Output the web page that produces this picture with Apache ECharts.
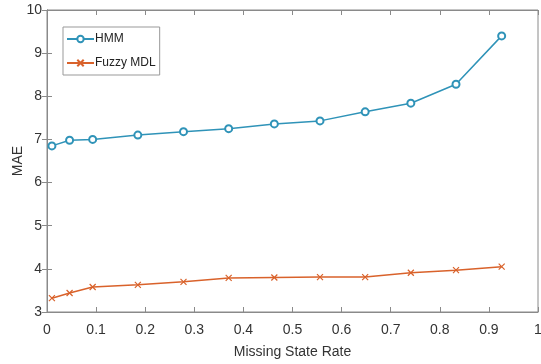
<!DOCTYPE html>
<html>
<head>
<meta charset="utf-8">
<script src="https://cdn.jsdelivr.net/npm/echarts@6/dist/echarts.min.js"></script>
<style>
  html, body { margin: 0; padding: 0; background: #fff; }
  #chart { width: 541px; height: 364px; }
</style>
</head>
<body>
<div id="chart"></div>
<script>
// values
const missingRate = [0.01, 0.046, 0.093, 0.185, 0.278, 0.370, 0.463, 0.556, 0.648, 0.741, 0.833, 0.926];
const hmmMae = [6.85, 6.98, 7.0, 7.1, 7.18, 7.25, 7.36, 7.43, 7.64, 7.84, 8.28, 9.4];
const fuzzyMae = [3.32, 3.44, 3.58, 3.63, 3.7, 3.79, 3.8, 3.81, 3.81, 3.91, 3.97, 4.05];
const seriesNames = ['HMM', 'Fuzzy MDL'];

const axisColor = '#8a8a8a';
const labelColor = '#333';
const font = 'Liberation Sans, Arial, sans-serif';
const crossPath = 'path://M0,0L10,10M10,0L0,10';

const pairs = (xs, ys) => xs.map((x, i) => [x, ys[i]]);

const chart = echarts.init(document.getElementById('chart'));
const option = {
  animation: false,
  textStyle: { fontFamily: font },
  grid: {
    left: 47, right: 3, top: 10, bottom: 52,
    outerBoundsMode: 'none', containLabel: false,
    show: true, borderColor: axisColor, borderWidth: 1
  },
  legend: {
    orient: 'vertical',
    left: 63,
    top: 27,
    padding: [6, 4, 6, 3],
    itemGap: 12,
    itemWidth: 27,
    itemHeight: 8,
    backgroundColor: '#fff',
    borderColor: '#999',
    borderWidth: 1,
    borderRadius: 0,
    textStyle: { fontFamily: font, fontSize: 12, color: '#222', padding: [0, 0, 0, -4] },
    data: seriesNames
  },
  xAxis: [{
    type: 'value', min: 0, max: 1, interval: 0.1,
    name: 'Missing State Rate', nameLocation: 'middle', nameGap: 33,
    nameTextStyle: { fontFamily: font, fontSize: 14, color: labelColor },
    axisLine: { lineStyle: { color: axisColor } },
    axisTick: { inside: true, length: 5, lineStyle: { color: axisColor } },
    axisLabel: { color: labelColor, fontSize: 14, margin: 11 },
    splitLine: { show: false }
  }, {
    type: 'value', min: 0, max: 1, interval: 0.1, position: 'top',
    axisLine: { lineStyle: { color: axisColor } },
    axisTick: { inside: true, length: 5, lineStyle: { color: axisColor } },
    axisLabel: { show: false },
    splitLine: { show: false }
  }],
  yAxis: [{
    type: 'value', min: 3, max: 10, interval: 1,
    name: 'MAE', nameLocation: 'middle', nameGap: 22, nameMoveOverlap: false,
    nameTextStyle: { fontFamily: font, fontSize: 14, color: labelColor },
    axisLine: { show: true, lineStyle: { color: axisColor } },
    axisTick: { show: true, inside: true, length: 5, lineStyle: { color: axisColor } },
    axisLabel: { color: labelColor, fontSize: 14, margin: 5 },
    splitLine: { show: false }
  }, {
    type: 'value', min: 3, max: 10, interval: 1, position: 'right',
    axisLine: { show: true, lineStyle: { color: axisColor } },
    axisTick: { show: true, inside: true, length: 5, lineStyle: { color: axisColor } },
    axisLabel: { show: false },
    splitLine: { show: false }
  }],
  series: [{
    name: seriesNames[0],
    type: 'line',
    data: pairs(missingRate, hmmMae),
    symbol: 'emptyCircle',
    symbolSize: 7,
    lineStyle: { color: '#2f93b8', width: 1.5 },
    itemStyle: { color: '#2f93b8', borderColor: '#3a4cb0', borderWidth: 1.5 }
  }, {
    name: seriesNames[1],
    type: 'line',
    data: pairs(missingRate, fuzzyMae),
    symbol: crossPath,
    symbolSize: 6,
    lineStyle: { color: '#d9622b', width: 1.5 },
    itemStyle: { color: '#d9622b', borderColor: '#d9622b', borderWidth: 1.2 }
  }]
};
chart.setOption(option);
</script>
</body>
</html>
